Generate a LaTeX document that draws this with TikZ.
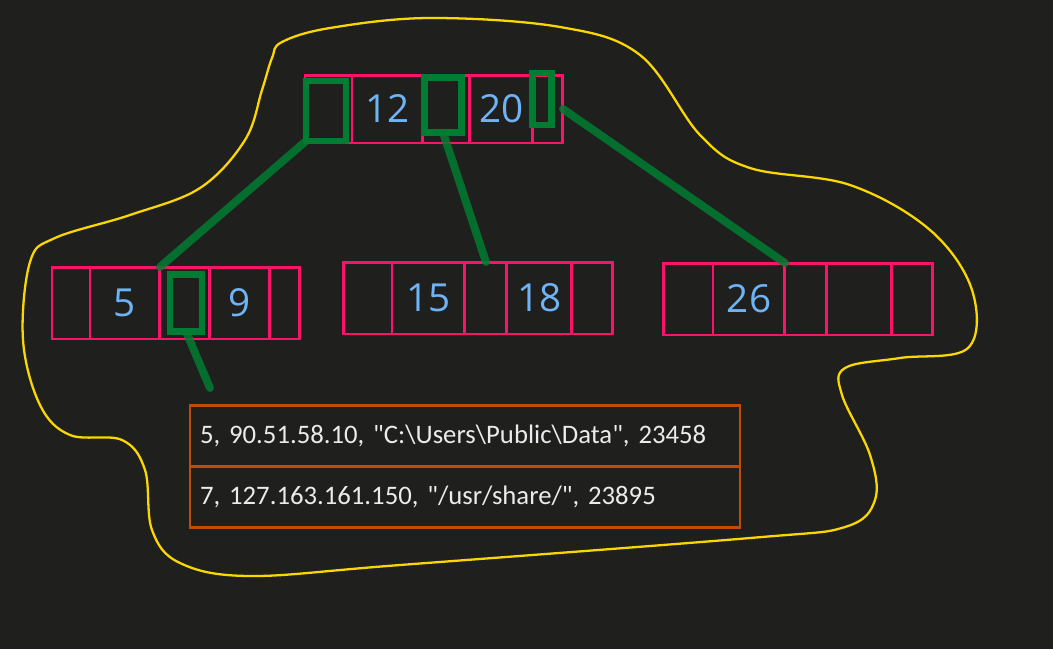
\documentclass[tikz,border=0pt]{standalone}
\usepackage{fontspec}
\setmainfont{Carlito}
\newfontfamily\digitfont{Open Sans}
\usetikzlibrary{positioning}

\definecolor{bgdark}{RGB}{31,31,30}
\definecolor{cellpink}{RGB}{250,20,105}
\definecolor{keyblue}{RGB}{110,180,245}
\definecolor{ptrgreen}{RGB}{0,125,50}
\definecolor{recorange}{RGB}{195,75,10}
\definecolor{blobyellow}{RGB}{250,215,0}
\definecolor{rectext}{RGB}{235,235,235}

\tikzset{
    cell/.style={draw=cellpink, line width=1.7pt, outer sep=0pt, inner sep=0pt,
                 minimum height=1.36cm, text=keyblue,
                 font=\digitfont\fontsize{22}{22}\selectfont},
    leafcell/.style={cell, minimum height=1.44cm},
    ptr/.style={draw=ptrgreen, line width=3.5pt, inner sep=0pt, outer sep=0pt},
    link/.style={draw=ptrgreen, line width=4.5pt, opacity=0.85, line cap=round},
    record/.style={draw=recorange, line width=1.6pt, outer sep=0pt,
                   minimum width=11cm, minimum height=1.22cm, text width=10.6cm,
                   align=left, text=rectext,
                   font=\frenchspacing\fontsize{15.2}{16}\selectfont},
    blob/.style={draw=blobyellow, line width=1.3pt}
}

\begin{document}
\begin{tikzpicture}[x=0.02cm, y=-0.02cm]
    % background, fixes the page size
    \fill[bgdark] (0,0) rectangle (1053,649);
    \useasboundingbox (0,0) rectangle (1053,649);

    % root node
    \node[cell, minimum width=0.94cm, anchor=west] (r0) at (305,109) {};
    \node[cell, minimum width=1.42cm, right=0pt of r0] (r1) {12};
    \node[cell, minimum width=0.94cm, right=0pt of r1] (r2) {};
    \node[cell, minimum width=1.26cm, right=0pt of r2] (r3) {20};
    \node[cell, minimum width=0.60cm, right=0pt of r3] (r4) {};

    % left leaf
    \node[leafcell, minimum width=0.76cm, anchor=west] (l0) at (52,303) {};
    \node[leafcell, minimum width=1.40cm, right=0pt of l0] (l1) {5};
    \node[leafcell, minimum width=1.00cm, right=0pt of l1] (l2) {};
    \node[leafcell, minimum width=1.20cm, right=0pt of l2] (l3) {9};
    \node[leafcell, minimum width=0.60cm, right=0pt of l3] (l4) {};

    % middle leaf
    \node[leafcell, minimum width=0.98cm, anchor=west] (m0) at (343,298) {};
    \node[leafcell, minimum width=1.46cm, right=0pt of m0] (m1) {15};
    \node[leafcell, minimum width=0.84cm, right=0pt of m1] (m2) {};
    \node[leafcell, minimum width=1.30cm, right=0pt of m2] (m3) {18};
    \node[leafcell, minimum width=0.82cm, right=0pt of m3] (m4) {};

    % right leaf
    \node[leafcell, minimum width=1.00cm, anchor=west] (n0) at (663,299) {};
    \node[leafcell, minimum width=1.44cm, right=0pt of n0] (n1) {26};
    \node[leafcell, minimum width=0.84cm, right=0pt of n1] (n2) {};
    \node[leafcell, minimum width=1.30cm, right=0pt of n2] (n3) {};
    \node[leafcell, minimum width=0.82cm, right=0pt of n3] (n4) {};

    % child pointers
    \node[ptr, minimum width=0.80cm, minimum height=1.20cm] (p0) at (326,111) {};
    \node[ptr, minimum width=0.74cm, minimum height=1.10cm] (p1) at (443,105) {};
    \node[ptr, minimum width=0.38cm, minimum height=1.04cm] (p2) at (542,99) {};
    \node[ptr, minimum width=0.64cm, minimum height=1.14cm] (q)  at (186,303) {};

    % row storage
    \node[record] (rec1) at (465,436)
        {5, 90.51.58.10, \textquotedbl C:\textbackslash Users\textbackslash Public\textbackslash Data\textquotedbl, 23458};
    \node[record, below=0pt of rec1] (rec2)
        {7, 127.163.161.150, \textquotedbl/usr/share/\textquotedbl, 23895};
    \coordinate (recptr) at (210,388);

    % links
    \draw[link] (p0.south west) -- (l2.north west);
    \draw[link] (p1.south) -- (m2.north);
    \draw[link] (r4.east) -- (n1.north east);
    \draw[link] (q.south) -- (recptr);

    % page outline
    \draw[blob] plot[smooth cycle, tension=0.6] coordinates {
        (282,42) (330,28) (430,18) (560,27) (640,55) (700,135) (750,168)
        (850,185) (930,230) (972,290) (968,348) (900,358) (845,368) (842,395)
        (870,455) (875,500) (845,527) (750,538) (400,565) (250,576) (180,563)
        (152,530) (145,470) (122,440) (70,435) (40,405) (23,340) (30,262)
        (55,238) (130,215) (200,188) (245,140) (262,90) (272,58)};
\end{tikzpicture}
\end{document}
